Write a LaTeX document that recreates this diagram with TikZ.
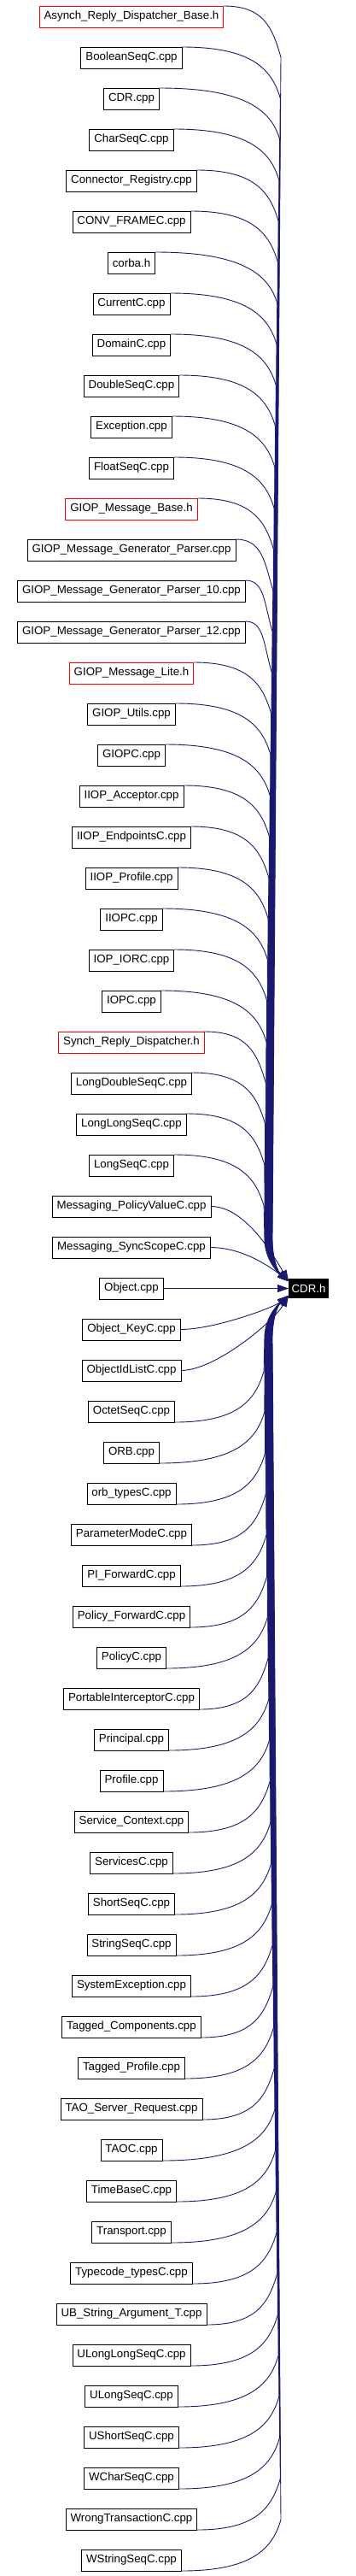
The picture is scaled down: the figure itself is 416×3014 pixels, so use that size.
\documentclass[tikz,border=0pt]{standalone}
\usepackage{fontspec}
\setmainfont{Liberation Sans}
\usetikzlibrary{arrows.meta}
\usetikzlibrary{positioning}
\usetikzlibrary{calc}
\definecolor{edgeblue}{RGB}{25,25,112}

\begin{document}
\begin{tikzpicture}[x=1pt, y=-1pt,
  filebox/.style={rectangle, draw=black, line width=0.8pt, minimum height=25pt, inner xsep=5.5pt, inner ysep=2pt, outer sep=0pt, font={\fontsize{13.3}{16}\selectfont}},
  truncbox/.style={filebox, draw=red},
  cdrbox/.style={rectangle, fill=black, text=white, minimum height=23pt, inner xsep=3.5pt, inner ysep=2pt, outer sep=0pt, font={\fontsize{13.3}{16}\selectfont}},
  dep/.style={draw=edgeblue, line width=0.9pt, -{Triangle[length=13pt,width=9pt]}}]
  \useasboundingbox (0,0) rectangle (416,3014);

  % files that include CDR.h
  \foreach \name/\sty [count=\i] in {
    Asynch\_Reply\_Dispatcher\_Base.h/truncbox, BooleanSeqC.cpp/filebox, CDR.cpp/filebox,
    CharSeqC.cpp/filebox, Connector\_Registry.cpp/filebox, CONV\_FRAMEC.cpp/filebox,
    corba.h/filebox, CurrentC.cpp/filebox, DomainC.cpp/filebox, DoubleSeqC.cpp/filebox,
    Exception.cpp/filebox, FloatSeqC.cpp/filebox, GIOP\_Message\_Base.h/truncbox,
    GIOP\_Message\_Generator\_Parser.cpp/filebox, GIOP\_Message\_Generator\_Parser\_10.cpp/filebox,
    GIOP\_Message\_Generator\_Parser\_12.cpp/filebox, GIOP\_Message\_Lite.h/truncbox,
    GIOP\_Utils.cpp/filebox, GIOPC.cpp/filebox, IIOP\_Acceptor.cpp/filebox,
    IIOP\_EndpointsC.cpp/filebox, IIOP\_Profile.cpp/filebox, IIOPC.cpp/filebox,
    IOP\_IORC.cpp/filebox, IOPC.cpp/filebox, Synch\_Reply\_Dispatcher.h/truncbox,
    LongDoubleSeqC.cpp/filebox, LongLongSeqC.cpp/filebox, LongSeqC.cpp/filebox,
    Messaging\_PolicyValueC.cpp/filebox, Messaging\_SyncScopeC.cpp/filebox, Object.cpp/filebox,
    Object\_KeyC.cpp/filebox, ObjectIdListC.cpp/filebox, OctetSeqC.cpp/filebox, ORB.cpp/filebox,
    orb\_typesC.cpp/filebox, ParameterModeC.cpp/filebox, PI\_ForwardC.cpp/filebox,
    Policy\_ForwardC.cpp/filebox, PolicyC.cpp/filebox, PortableInterceptorC.cpp/filebox,
    Principal.cpp/filebox, Profile.cpp/filebox, Service\_Context.cpp/filebox, ServicesC.cpp/filebox,
    ShortSeqC.cpp/filebox, StringSeqC.cpp/filebox, SystemException.cpp/filebox,
    Tagged\_Components.cpp/filebox, Tagged\_Profile.cpp/filebox, TAO\_Server\_Request.cpp/filebox,
    TAOC.cpp/filebox, TimeBaseC.cpp/filebox, Transport.cpp/filebox, Typecode\_typesC.cpp/filebox,
    UB\_String\_Argument\_T.cpp/filebox, ULongLongSeqC.cpp/filebox, ULongSeqC.cpp/filebox,
    UShortSeqC.cpp/filebox, WCharSeqC.cpp/filebox, WrongTransactionC.cpp/filebox,
    WStringSeqC.cpp/filebox} {
    \ifnum\i=1
      \node[\sty] (n\i) at (154,19.5) {\name};
    \else
      \pgfmathtruncatemacro\j{\i-1}
      \node[\sty, below=23pt of n\j] (n\i) {\name};
    \fi
  }

  \node[cdrbox] (cdr) at (361.5,1507.5) {CDR.h};

  % edges into CDR.h
  \foreach \i in {1,...,63} {
    \ifnum\i<30
      \pgfmathsetlengthmacro\xs{(307+22*(32-\i)/31)*1pt}
      \pgfmathsetlengthmacro\xb{(309+10*(32-\i)/31)*1pt}
      \draw[dep] let \p1=(n\i.north east), \p2=(cdr.160) in
        (\p1) .. controls ({\x1+0.7*\xs-0.7*\x1},\y1) and ({\xs-10pt},{\y1-25pt}) .. (\xs,{\y1-60pt})
        -- (\xb,{\y2+50pt}) .. controls (\xb,{\y2+25pt}) and ({\x2-12pt},{\y2+10pt}) .. (\p2);
    \fi
    \ifnum\i>29 \ifnum\i<32
      \draw[dep] let \p1=(n\i.east), \p2=(cdr.160) in
        (\p1) .. controls ({\x1+40pt},\y1) and ({\x2-18pt},{\y2+0.35*(\y1-\y2)}) .. (\p2);
    \fi\fi
    \ifnum\i=32
      \draw[dep] (n\i) -- (cdr);
    \fi
    \ifnum\i>32 \ifnum\i<35
      \draw[dep] let \p1=(n\i.east), \p2=(cdr.200) in
        (\p1) .. controls ({\x1+40pt},\y1) and ({\x2-18pt},{\y2+0.35*(\y1-\y2)}) .. (\p2);
    \fi\fi
    \ifnum\i>34
      \pgfmathsetlengthmacro\xs{(307+22*(\i-32)/31)*1pt}
      \pgfmathsetlengthmacro\xb{(309+10*(\i-32)/31)*1pt}
      \draw[dep] let \p1=(n\i.south east), \p2=(cdr.200) in
        (\p1) .. controls ({\x1+0.7*\xs-0.7*\x1},\y1) and ({\xs-10pt},{\y1+25pt}) .. (\xs,{\y1+60pt})
        -- (\xb,{\y2-50pt}) .. controls (\xb,{\y2-25pt}) and ({\x2-12pt},{\y2-10pt}) .. (\p2);
    \fi
  }
\end{tikzpicture}
\end{document}
